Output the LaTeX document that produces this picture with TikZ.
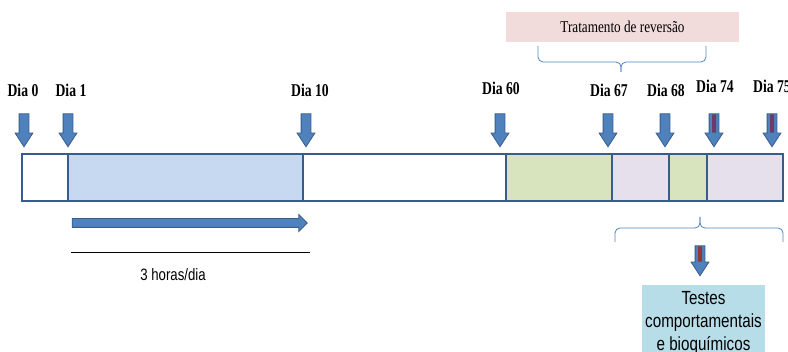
\documentclass[tikz,border=0pt]{standalone}
\usepackage{fontspec}
\setmainfont{Liberation Serif}[FakeStretch=0.80]
\setsansfont{Liberation Sans}[FakeStretch=0.80]
\newfontfamily\diafont{Liberation Serif}[FakeStretch=0.76]
\usetikzlibrary{shapes.arrows,calc}

\definecolor{contorno}{HTML}{385D8A}
\definecolor{azulseta}{HTML}{4F81BD}
\definecolor{azulclaro}{HTML}{C6D9F1}
\definecolor{verde}{HTML}{D7E4BD}
\definecolor{lilas}{HTML}{E5E0EC}
\definecolor{rosa}{HTML}{F2DCDB}
\definecolor{azulteste}{HTML}{B7DEE8}
\definecolor{vinho}{HTML}{6E3A66}
\definecolor{vermelho}{HTML}{953735}

\tikzset{
    seta/.style={single arrow, draw=contorno, fill=azulseta, line width=0.8pt,
        inner xsep=0pt, inner ysep=4.5pt, single arrow head extend=4pt,
        single arrow tip angle=66, minimum height=33pt},
    dia/.style={anchor=base, font=\diafont\fontsize{18}{20}\selectfont\bfseries},
    barra/.style={draw=contorno, line width=1.6pt},
    chave/.style={draw=azulseta, line width=0.8pt, rounded corners=5pt},
}

\begin{document}
\begin{tikzpicture}[x=1pt, y=-1pt]
    % Area da figura
    \clip (0,0) rectangle (788,352);

    % Barra do tempo
    \foreach \a/\b/\cor in {22/68/white, 68/303/azulclaro, 303/506/white,
        506/612/verde, 612/669/lilas, 669/707/verde, 707/783/lilas} {
        \draw[barra, fill=\cor] (\a,154) rectangle (\b,201);
    }

    % Setas e rotulos dos dias
    \foreach \xs/\xl/\yl/\d in {24/23/97/0, 68/71/97/1, 306/310/97/10, 500/501/95/60,
        608/609/97/67, 665/666/97/68, 714/715/93/74, 772/772/93/75} {
        \node[seta, rotate=-90] (s\d) at (\xs,126.5) {};
        \node[dia] (d\d) at (\xl,\yl) {Dia \d};
    }
    % Faixa escura nas setas 74 e 75
    \foreach \d in {74,75} {
        \draw[vinho, line width=4pt, shorten <=1pt]
            (s\d.tail) -- ($(s\d.before head)!0.5!(s\d.after head)$);
    }

    % Tratamento de reversao
    \node[fill=rosa, minimum width=233pt, minimum height=30pt,
        font=\fontsize{16.5}{18}\selectfont] (trat) at (622.5,27) {Tratamento de reversão};
    \draw[chave] (538,46) |- (621,62) -- (621,72);
    \draw[chave] (706,46) |- (621,62) -- (621,72);

    % Testes
    \draw[chave] (615,242) |- (700,228) -- (700,217);
    \draw[chave] (783,242) |- (700,228) -- (700,217);
    \node[seta, rotate=-90, minimum height=30pt] (steste) at (700,257) {};
    \draw[vermelho, line width=4pt, shorten <=1pt]
        (steste.tail) -- ($(steste.before head)!0.5!(steste.after head)$);
    \node[fill=azulteste, minimum width=123pt, minimum height=76pt, align=center,
        font=\sffamily\fontsize{19}{23}\selectfont] (testes) at (703.5,323)
        {Testes\\comportamentais\\e bioquímicos};

    % Exposicao diaria
    \node[seta, minimum height=235pt, inner ysep=4pt, single arrow tip angle=90]
        (exposicao) at (187.5,223) {};
    \draw (71,252) -- (310,252);
    \node[font=\sffamily\fontsize{16.5}{18}\selectfont] (horas) at (173,275) {3 horas/dia};
\end{tikzpicture}
\end{document}
